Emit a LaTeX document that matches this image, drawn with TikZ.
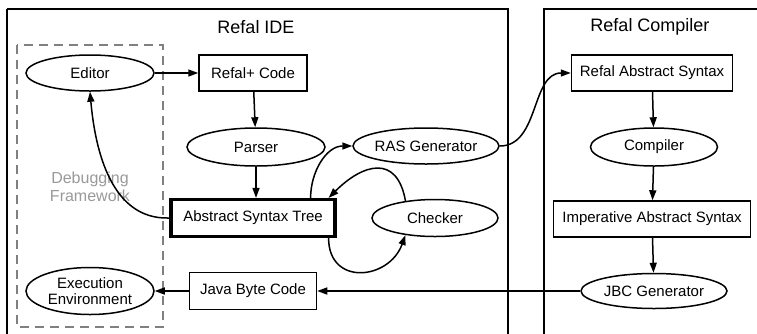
\documentclass[tikz,border=0pt]{standalone}
\usepackage{fontspec}
\setmainfont{Liberation Sans}
\usetikzlibrary{shapes.geometric,arrows.meta}
\begin{document}
\begin{tikzpicture}[x=1pt,y=-1pt,
  font=\fontsize{15}{17}\selectfont,
  line width=1.5pt,
  boxnode/.style={draw,rectangle,minimum height=36pt,inner sep=0pt},
  ellnode/.style={draw,ellipse,minimum height=36pt,inner sep=0pt},
  conn/.style={-{Triangle[length=10pt,width=7pt]}},
  ttl/.style={font=\fontsize{18}{20}\selectfont}]
\useasboundingbox (0,0) rectangle (757,333);
\begin{scope}
\clip (0,0) rectangle (757,333);
\draw (7,9) -- (7,340) (7,9) -- (508,9) -- (508,340);
\draw (544,340) -- (544,9) -- (765,9);
\end{scope}
\node[ttl] (tide) at (256,27) {Refal IDE};
\node[ttl] (tcomp) at (650,27) {Refal Compiler};
\draw[dashed,gray,dash pattern=on 9pt off 6pt] (17,45) rectangle (163,327);
\node[gray!80,align=center,font=\fontsize{16}{18}\selectfont] (dbg) at (90,187) {Debugging\\Framework};

\node[ellnode,minimum width=128pt] (editor) at (90,73) {Editor};
\node[boxnode,minimum width=108pt] (code) at (253,73) {Refal+ Code};
\node[ellnode,minimum width=138pt,minimum height=38pt] (parser) at (256,147) {Parser};
\node[ellnode,minimum width=146pt] (ras) at (426,146) {RAS Generator};
\node[boxnode,minimum width=164pt,minimum height=37pt,line width=3.2pt] (ast) at (253,218) {Abstract Syntax Tree};
\node[ellnode,minimum width=126pt,minimum height=37pt] (checker) at (435,218) {Checker};
\node[boxnode,minimum width=127pt,minimum height=37pt] (jbc) at (253,291) {Java Byte Code};
\node[ellnode,minimum width=128pt,minimum height=47pt,align=center,font=\fontsize{15}{16.5}\selectfont] (exec) at (90,291) {Execution\\Environment};
\node[boxnode,minimum width=161pt] (ras2) at (652,73) {Refal Abstract Syntax};
\node[ellnode,minimum width=127pt,minimum height=38pt] (compiler) at (654,147) {Compiler};
\node[boxnode,minimum width=197pt,minimum height=36pt] (ias) at (652,219) {Imperative Abstract Syntax};
\node[ellnode,minimum width=146pt,minimum height=35pt] (jbcgen) at (654,291) {JBC Generator};

\draw[conn] (editor) -- (code);
\draw[conn] (code) -- (parser);
\draw[conn] (parser.south) -- (ast.north -| parser.south);
\draw[conn] (ast.west) to[out=182,in=-85] (editor.south);
\draw[conn] ([xshift=-26pt]ast.north east) to[out=90,in=180] (ras.west);
\draw[conn] (ras.east) to[out=0,in=180] (ras2.west);
\draw[conn] (checker.150) to[out=100,in=45,looseness=1.6] ([xshift=-8pt]ast.north east);
\draw[conn] ([xshift=-8pt]ast.south east) to[out=-90,in=-110,looseness=1.6] (checker.210);
\draw[conn] (ras2) -- (compiler);
\draw[conn] (compiler) -- (ias);
\draw[conn] (ias) -- (jbcgen);
\draw[conn] (jbcgen) -- (jbc);
\draw[conn] (jbc) -- (exec);
\end{tikzpicture}
\end{document}
